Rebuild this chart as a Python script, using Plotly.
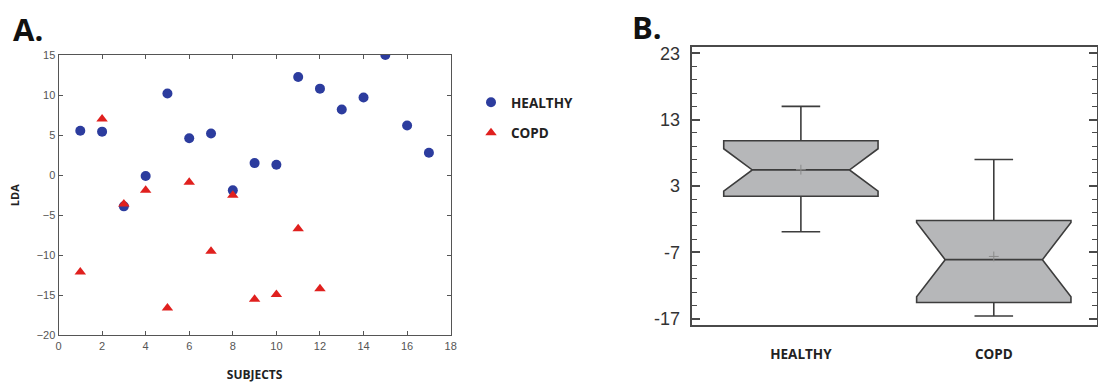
import numpy as np
import plotly.graph_objects as go

# Panel A: LDA score per subject
subjects_healthy = list(range(1, 18))
lda_healthy = [5.55, 5.43, -3.9, -0.1, 10.2, 4.6, 5.2, -1.9, 1.5, 1.3,
               12.25, 10.8, 8.2, 9.7, 15.0, 6.2, 2.8]
subjects_copd = list(range(1, 13))
lda_copd = [-12.1, 7.0, -3.6, -1.9, -16.6, -0.9, -9.5, -2.5, -15.5, -14.9,
            -6.7, -14.2]

# Panel B: group labels and y ticks
groups = ["HEALTHY", "COPD"]
b_ticks = [23, 13, 3, -7, -17]

W, H = 1098, 383
BLUE = "#2c3c9e"
RED = "#e0201e"
BOLD = "Open Sans"

def px_x(p):
    return p / W

def px_y(p):
    return (H - p) / H

fig = go.Figure()

fig.add_trace(go.Scatter(
    x=subjects_healthy, y=lda_healthy, mode="markers", name="HEALTHY",
    legendgroup="h",
    marker=dict(symbol="circle", size=10, color=BLUE),
    xaxis="x", yaxis="y",
))
fig.add_trace(go.Scatter(
    x=subjects_copd, y=lda_copd, mode="markers", name="COPD",
    legendgroup="c",
    marker=dict(symbol="triangle-up", size=10, color=RED),
    xaxis="x", yaxis="y",
))

box_style = dict(
    notched=True, notchwidth=0.185, whiskerwidth=0.25, width=0.8,
    boxpoints=False, fillcolor="#b6b7b9",
    line=dict(color="#3d3d3d", width=1.6),
    showlegend=False, xaxis="x2", yaxis="y2", quartilemethod="linear",
)
fig.add_trace(go.Box(y=lda_healthy, x=[groups[0]] * len(lda_healthy), **box_style))
fig.add_trace(go.Box(y=lda_copd, x=[groups[1]] * len(lda_copd), **box_style))

# mean markers inside the boxes
fig.add_trace(go.Scatter(
    x=groups, y=[float(np.mean(lda_healthy)), float(np.mean(lda_copd))],
    mode="markers", showlegend=False, hoverinfo="skip",
    marker=dict(symbol="cross-thin", size=7, line=dict(color="#8a8a8a", width=1)),
    xaxis="x2", yaxis="y2",
))

tick_font_a = dict(family="Liberation Sans, Arial", size=11, color="#555555")
title_font = dict(family=BOLD, size=12, color="#222222", weight="bold")

fig.update_layout(
    width=W, height=H, margin=dict(l=0, r=0, t=0, b=0),
    paper_bgcolor="white", plot_bgcolor="white",
    showlegend=True,
    legend=dict(
        x=px_x(471), y=px_y(87), xanchor="left", yanchor="top",
        font=dict(family=BOLD, size=13.5, color="#222222", weight="bold"),
        traceorder="grouped", tracegroupgap=10, bgcolor="rgba(0,0,0,0)",
    ),
    xaxis=dict(
        domain=[px_x(58.5), px_x(450.7)], range=[0, 18], dtick=2, tick0=0,
        showline=True, linecolor="#555555", linewidth=1, mirror="ticks",
        ticks="inside", ticklen=4, tickcolor="#555555",
        showgrid=False, zeroline=False, tickfont=tick_font_a,
        title=dict(text="SUBJECTS", font=title_font, standoff=22),
        anchor="y", automargin=False,
    ),
    yaxis=dict(
        domain=[px_y(335.3), px_y(55)], range=[-20, 15], dtick=5, tick0=0,
        showline=True, linecolor="#555555", linewidth=1, mirror="ticks",
        ticks="inside", ticklen=4, tickcolor="#555555",
        showgrid=False, zeroline=False, tickfont=tick_font_a,
        title=dict(text="LDA", font=dict(family=BOLD, size=11, color="#222222", weight="bold"), standoff=14),
        anchor="x", automargin=False,
    ),
    xaxis2=dict(
        domain=[px_x(691.7), px_x(1097)], range=[-0.566, 1.535],
        type="category", categoryorder="array", categoryarray=groups,
        showline=True, linecolor="#4a4a4a", linewidth=2, mirror=True,
        ticks="", showgrid=False, zeroline=False,
        tickfont=dict(family=BOLD, size=13.5, color="#222222", weight="bold"),
        ticklabelstandoff=16,
        anchor="y2", automargin=False,
    ),
    yaxis2=dict(
        domain=[px_y(325), px_y(46.7)], range=[-17.95, 24.0],
        tickvals=b_ticks, ticktext=[str(v) for v in b_ticks],
        showline=True, linecolor="#4a4a4a", linewidth=2, mirror="ticks",
        ticks="inside", ticklen=8, tickwidth=1.5, tickcolor="#4a4a4a",
        minor=dict(dtick=2, tick0=-17, ticks="inside", ticklen=5,
                   tickwidth=1.2, tickcolor="#4a4a4a"),
        showgrid=False, zeroline=False,
        tickfont=dict(family="Liberation Sans Narrow, Arial Narrow, Liberation Sans",
                      size=18, color="#333333"),
        ticklabelstandoff=6,
        anchor="x2", automargin=False,
    ),
    annotations=[
        dict(text="A.", x=px_x(11), y=px_y(29), xref="paper", yref="paper",
             xanchor="left", yanchor="middle", showarrow=False,
             font=dict(family=BOLD, size=31, color="#111111", weight="bold")),
        dict(text="B.", x=px_x(630), y=px_y(27), xref="paper", yref="paper",
             xanchor="left", yanchor="middle", showarrow=False,
             font=dict(family=BOLD, size=31, color="#111111", weight="bold")),
    ],
)

fig.write_html("out.html")
